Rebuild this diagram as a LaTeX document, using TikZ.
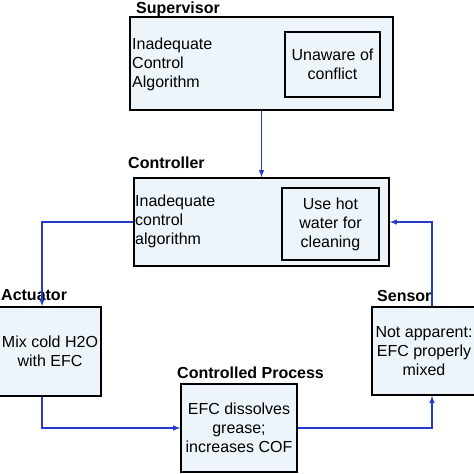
\documentclass[tikz,border=0pt]{standalone}
\usepackage{fontspec}
\setmainfont{Liberation Sans}
\definecolor{fondo}{RGB}{238,245,250}
\definecolor{flecha}{RGB}{35,60,200}
\begin{document}
\begin{tikzpicture}[
				x=1pt, y=-1pt,
				font=\fontsize{16}{19}\selectfont,
				bloque/.style={draw, line width=1.6pt, fill=fondo, inner sep=0pt, align=center},
				etiqueta/.style={font=\fontsize{16}{19}\selectfont\bfseries, anchor=west, inner sep=0pt},
				textoizq/.style={anchor=west, align=left, inner sep=0pt},
				textocen/.style={align=center, inner sep=0pt},
				enlace/.style={draw=flecha, line width=1.4pt, -latex}
			]
			\useasboundingbox (0,0) rectangle (474,474);
			\clip (0,0) rectangle (474,474);
			% Supervisor
			\node[bloque, minimum width=263pt, minimum height=93pt] (sup) at (261.5,63.5) {};
			\node[bloque, minimum width=95pt, minimum height=65pt] (supint) at (332.5,64.5) {Unaware of\\conflict};
			\node[textoizq] (suptxt) at (132,64) {Inadequate\\Control\\Algorithm};
			\node[etiqueta] (supetq) at (136,9) {Supervisor};
			% Controlador
			\node[bloque, minimum width=255pt, minimum height=88pt] (ctrl) at (261.5,222) {};
			\node[bloque, line width=2.2pt, minimum width=97pt, minimum height=72pt] (ctrlint) at (330.5,224) {Use hot\\water for\\cleaning};
			\node[textoizq] (ctrltxt) at (135,221) {Inadequate\\control\\algorithm};
			\node[etiqueta] (ctrletq) at (128,163) {Controller};
			% Actuador, proceso y sensor
			\node[bloque, minimum width=118pt, minimum height=89pt] (act) at (42,351.5) {};
			\node[textocen] (acttxt) at (50,351.5) {Mix cold H2O\\with EFC};
			\node[etiqueta] (actetq) at (1,295) {Actuator};
			\node[bloque, minimum width=116pt, minimum height=88pt] (proc) at (239,428) {EFC dissolves\\grease;\\increases COF};
			\node[etiqueta] (procetq) at (177,373) {Controlled Process};
			\node[bloque, minimum width=120pt, minimum height=88pt] (sens) at (432,351) {};
			\node[textocen] (senstxt) at (424,351) {Not apparent:\\EFC properly\\mixed};
			\node[etiqueta] (sensetq) at (377,296) {Sensor};
			% Conexiones
			\draw[enlace] (sup) -- (ctrl);
			\draw[enlace] (ctrl.west) -| (act.north);
			\draw[enlace] (act.south) |- (proc.west);
			\draw[enlace] (proc.east) -| (sens.south);
			\draw[enlace] (sens.north) |- (ctrl.east);
		\end{tikzpicture}
\end{document}
